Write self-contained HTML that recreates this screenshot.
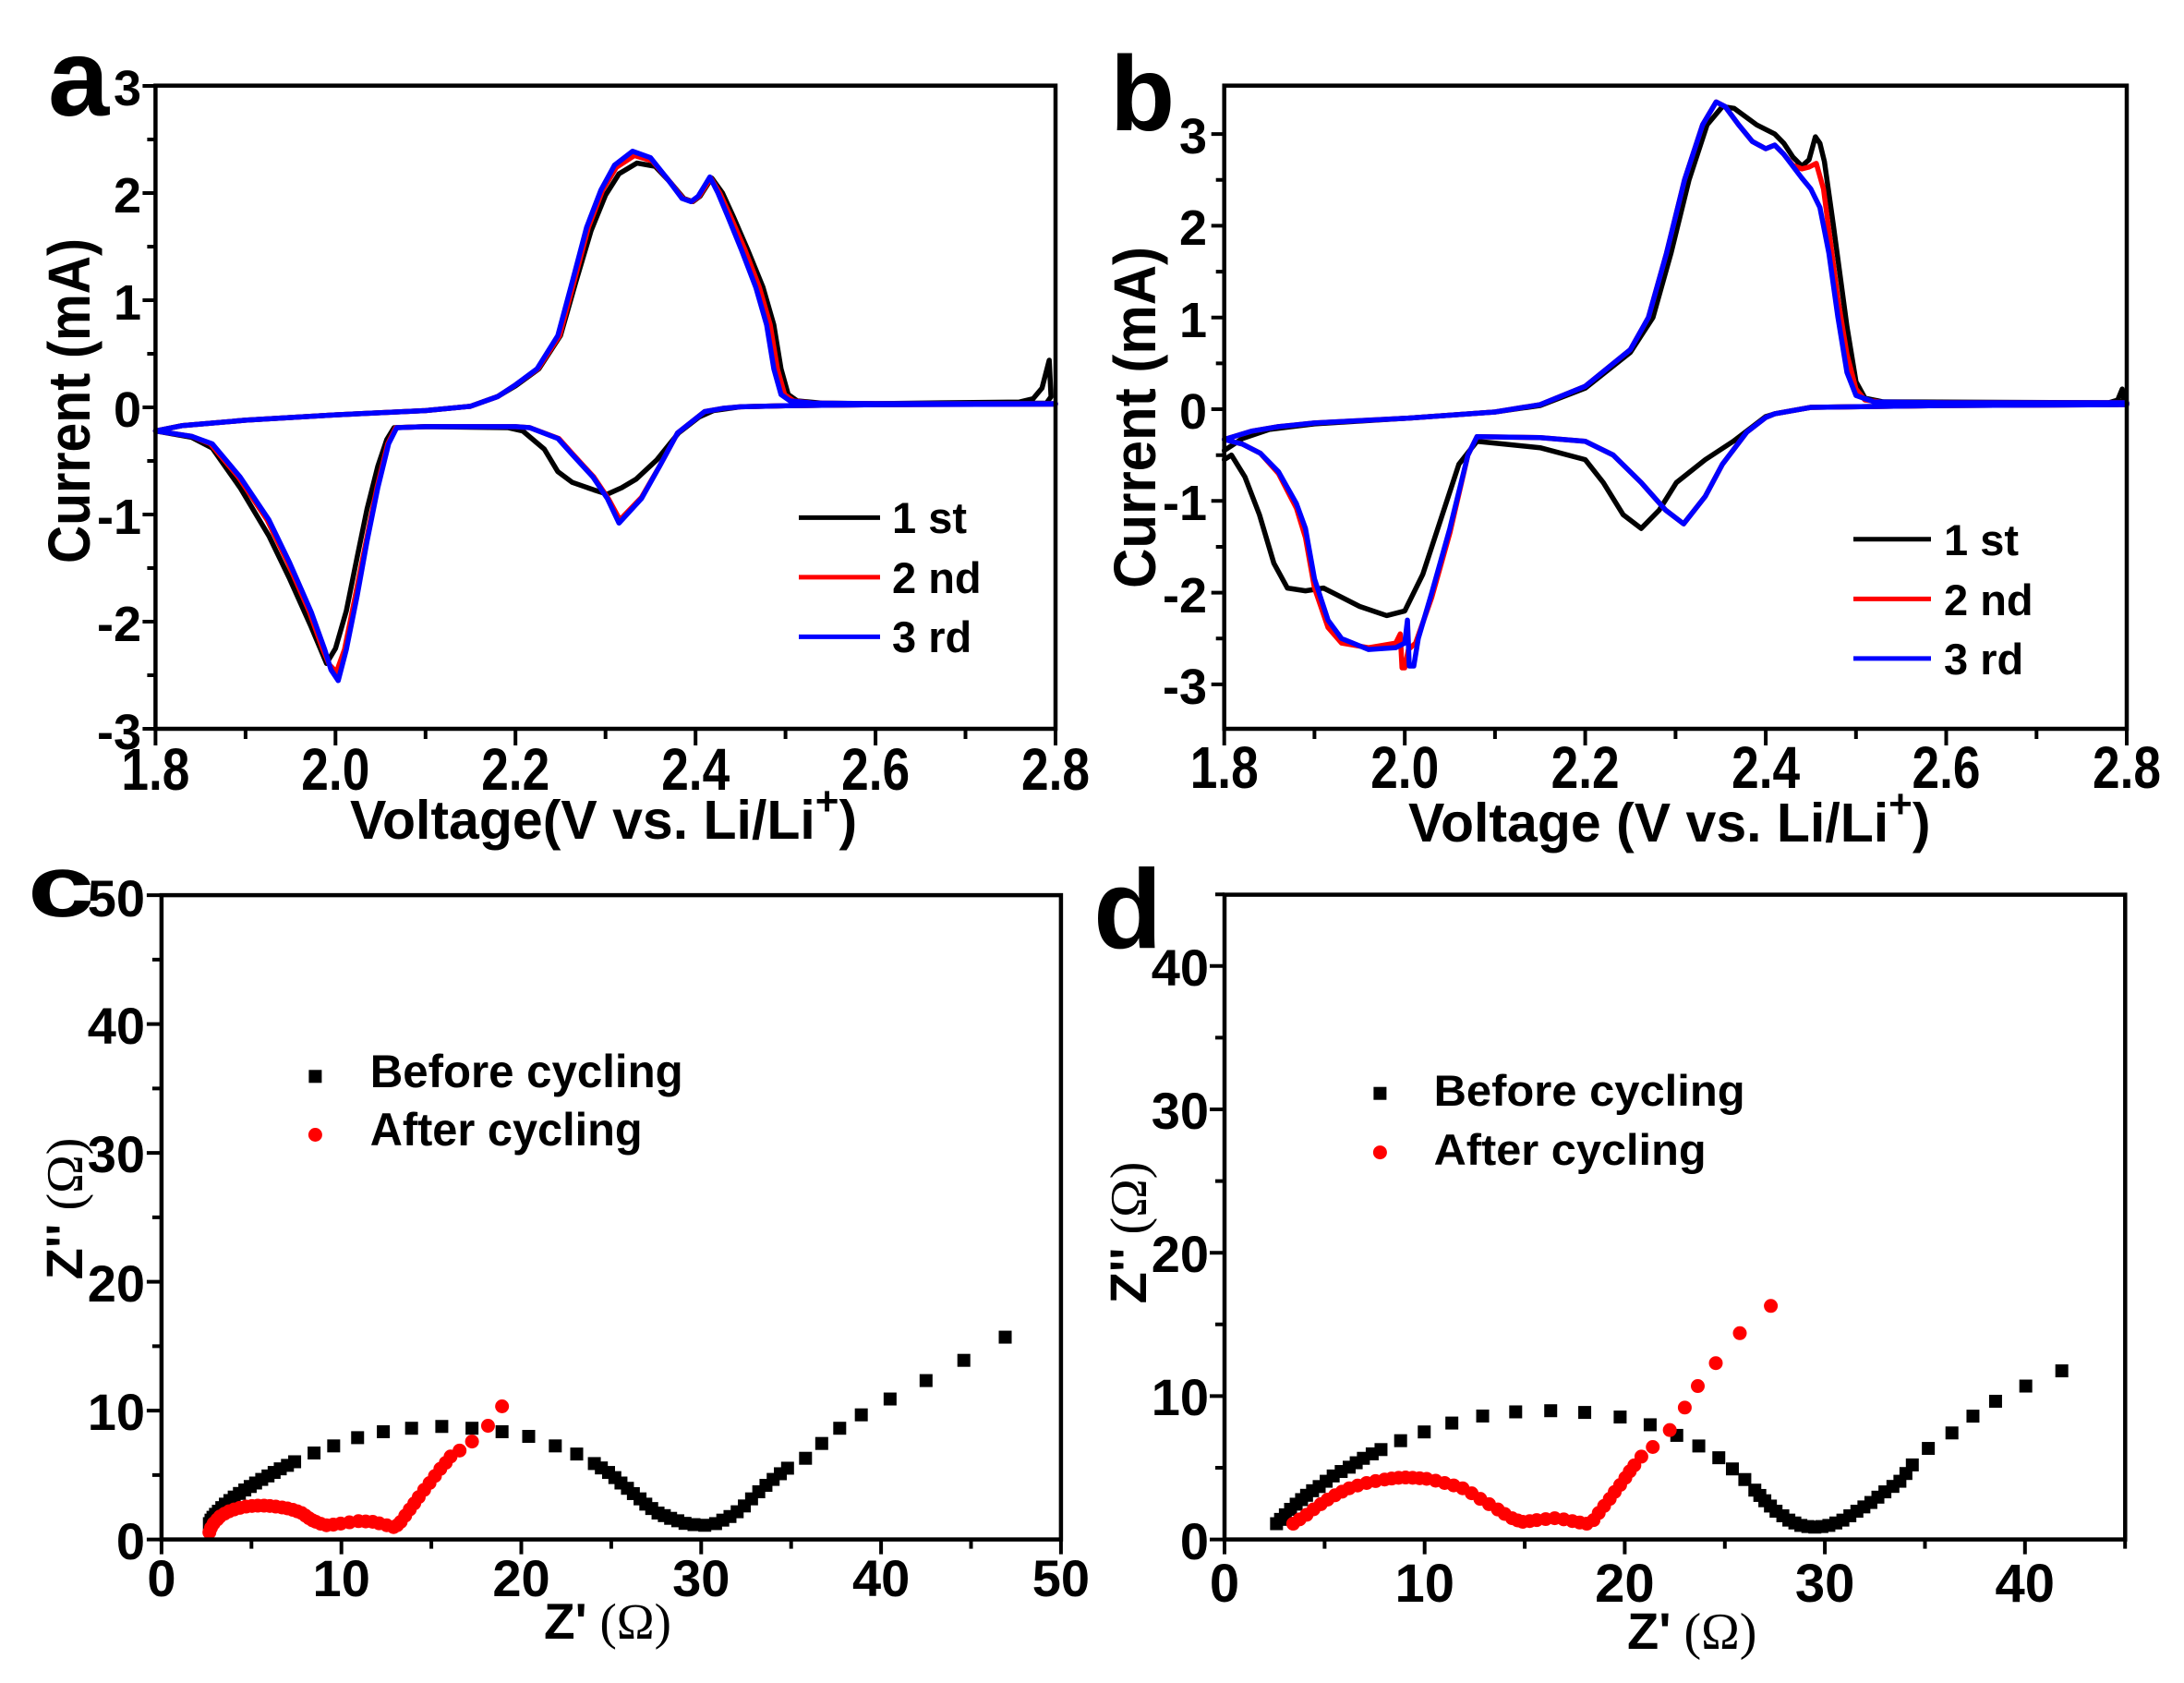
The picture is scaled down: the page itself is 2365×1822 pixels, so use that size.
<!DOCTYPE html>
<html><head><meta charset="utf-8"><style>html,body{margin:0;padding:0;background:#fff}svg{display:block}</style></head>
<body>
<svg width="2365" height="1822" viewBox="0 0 2365 1822" xmlns="http://www.w3.org/2000/svg" xmlns:xlink="http://www.w3.org/1999/xlink" font-family="'Liberation Sans', Arial, sans-serif" font-weight="bold">
<defs>
<rect id="sqc" x="-0.359" y="-0.502" width="0.719" height="1.004"/>
<ellipse id="cic" cx="0" cy="0" rx="0.385" ry="0.538"/>
<rect id="sqd" x="-0.323" y="-0.451" width="0.646" height="0.902"/>
<ellipse id="cid" cx="0" cy="0" rx="0.346" ry="0.483"/>
</defs>
<rect width="2365" height="1822" fill="#fff"/>

<!-- ================= PANEL A ================= -->
<g fill="none" stroke-width="5.5" stroke-linejoin="round" stroke-linecap="round" transform="translate(168.4,441) scale(974.6,-116)">
<polyline vector-effect="non-scaling-stroke" stroke="#000" points="0,-0.22 0.03,-0.17 0.1,-0.12 0.2,-0.07 0.3,-0.03 0.35,0.01 0.38,0.10 0.40,0.20 0.426,0.36 0.45,0.67 0.467,1.17 0.484,1.65 0.50,1.98 0.515,2.18 0.535,2.28 0.555,2.25 0.572,2.1 0.587,1.95 0.597,1.92 0.605,1.97 0.618,2.14 0.63,2.0 0.642,1.78 0.658,1.47 0.675,1.12 0.687,0.77 0.695,0.36 0.703,0.12 0.713,0.06 0.74,0.04 0.8,0.035 0.96,0.05 0.975,0.08 0.985,0.18 0.993,0.44 0.995,0.1 0.99,0.04 0.8,0.025 0.7,0.015 0.65,0.005 0.62,-0.03 0.604,-0.09 0.581,-0.24 0.557,-0.49 0.534,-0.67 0.518,-0.75 0.502,-0.81 0.487,-0.77 0.463,-0.70 0.447,-0.6 0.432,-0.39 0.408,-0.22 0.392,-0.19 0.30,-0.18 0.265,-0.19 0.257,-0.3 0.247,-0.55 0.235,-0.95 0.224,-1.4 0.212,-1.9 0.2,-2.25 0.195,-2.32 0.19,-2.39 0.173,-2.05 0.149,-1.6 0.126,-1.2 0.094,-0.75 0.063,-0.38 0.04,-0.28 0,-0.22"/>
<polyline vector-effect="non-scaling-stroke" stroke="#ff0000" points="0,-0.22 0.03,-0.17 0.1,-0.12 0.2,-0.07 0.3,-0.03 0.35,0.01 0.38,0.10 0.40,0.21 0.425,0.36 0.449,0.67 0.465,1.17 0.481,1.68 0.497,2.03 0.512,2.24 0.532,2.35 0.552,2.3 0.57,2.12 0.586,1.95 0.596,1.92 0.604,1.97 0.617,2.14 0.627,2.0 0.639,1.78 0.655,1.47 0.671,1.12 0.683,0.77 0.691,0.36 0.699,0.12 0.709,0.06 0.73,0.04 0.8,0.035 1.0,0.035 1.0,0.03 0.8,0.025 0.7,0.015 0.65,0.005 0.63,-0.01 0.61,-0.04 0.58,-0.24 0.56,-0.55 0.54,-0.84 0.516,-1.05 0.503,-0.85 0.487,-0.65 0.464,-0.44 0.448,-0.29 0.416,-0.19 0.40,-0.18 0.30,-0.18 0.267,-0.19 0.258,-0.34 0.246,-0.75 0.234,-1.25 0.222,-1.76 0.21,-2.26 0.201,-2.47 0.193,-2.4 0.186,-2.26 0.171,-1.91 0.147,-1.45 0.124,-1.05 0.092,-0.65 0.061,-0.34 0.04,-0.27 0,-0.22"/>
<polyline vector-effect="non-scaling-stroke" stroke="#0000ff" points="0,-0.22 0.03,-0.17 0.1,-0.12 0.2,-0.07 0.3,-0.03 0.35,0.01 0.38,0.10 0.40,0.21 0.424,0.36 0.447,0.67 0.463,1.17 0.479,1.68 0.495,2.03 0.51,2.26 0.53,2.39 0.55,2.33 0.569,2.13 0.585,1.95 0.595,1.92 0.603,1.97 0.616,2.15 0.625,2.0 0.636,1.78 0.651,1.47 0.667,1.12 0.679,0.77 0.687,0.36 0.695,0.12 0.705,0.06 0.73,0.04 0.8,0.035 1.0,0.035 1.0,0.03 0.8,0.025 0.7,0.015 0.65,0.005 0.63,-0.01 0.61,-0.04 0.58,-0.24 0.56,-0.55 0.54,-0.85 0.515,-1.08 0.502,-0.85 0.486,-0.65 0.463,-0.44 0.447,-0.29 0.416,-0.19 0.40,-0.18 0.30,-0.18 0.268,-0.19 0.259,-0.34 0.247,-0.75 0.235,-1.25 0.224,-1.76 0.212,-2.26 0.203,-2.55 0.195,-2.45 0.188,-2.26 0.173,-1.91 0.149,-1.45 0.126,-1.05 0.094,-0.65 0.063,-0.34 0.04,-0.27 0,-0.22"/>
</g>
<rect x="168.4" y="92.7" width="974.6" height="696.3" fill="none" stroke="#000" stroke-width="4.5"/>
<path fill="none" stroke="#000" stroke-width="4" d="M168.4 789v18 M265.9 789v11 M363.3 789v18 M460.8 789v11 M558.2 789v18 M655.7 789v11 M753.2 789v18 M850.6 789v11 M948.1 789v18 M1045.5 789v11 M1143 789v18 M168.4 93h-14 M168.4 151h-9 M168.4 209h-14 M168.4 267h-9 M168.4 325h-14 M168.4 383h-9 M168.4 441h-14 M168.4 499h-9 M168.4 557h-14 M168.4 615h-9 M168.4 673h-14 M168.4 731h-9 M168.4 789h-14"/>
<g font-size="64" text-anchor="middle">
<text x="168.4" y="855" textLength="74" lengthAdjust="spacingAndGlyphs">1.8</text>
<text x="363.3" y="855" textLength="74" lengthAdjust="spacingAndGlyphs">2.0</text>
<text x="558.2" y="855" textLength="74" lengthAdjust="spacingAndGlyphs">2.2</text>
<text x="753.2" y="855" textLength="74" lengthAdjust="spacingAndGlyphs">2.4</text>
<text x="948.1" y="855" textLength="74" lengthAdjust="spacingAndGlyphs">2.6</text>
<text x="1143" y="855" textLength="74" lengthAdjust="spacingAndGlyphs">2.8</text>
</g>
<g font-size="54" text-anchor="end">
<text x="153" y="114">3</text>
<text x="153" y="230">2</text>
<text x="153" y="346">1</text>
<text x="153" y="462">0</text>
<text x="153" y="578">-1</text>
<text x="153" y="694">-2</text>
<text x="153" y="811">-3</text>
</g>
<text x="52" y="125" font-size="119">a</text>
<text transform="translate(97,434) rotate(-90)" text-anchor="middle" font-size="64" textLength="352" lengthAdjust="spacingAndGlyphs">Current (mA)</text>
<text x="379" y="908" font-size="59">Voltage(V vs. Li/Li<tspan font-size="44" dy="-26">+</tspan><tspan dy="26">)</tspan></text>
<g stroke-width="5" fill="none">
<path d="M865 560.4H953" stroke="#000"/>
<path d="M865 624.9H953" stroke="#ff0000"/>
<path d="M865 689.4H953" stroke="#0000ff"/>
</g>
<g font-size="47">
<text x="966" y="577">1 st</text>
<text x="966" y="642">2 nd</text>
<text x="966" y="706">3 rd</text>
</g>

<!-- ================= PANEL B ================= -->
<g fill="none" stroke-width="5.5" stroke-linejoin="round" stroke-linecap="round" transform="translate(1325.7,443) scale(977.3,-99.3)">
<polyline vector-effect="non-scaling-stroke" stroke="#000" points="0,-0.45 0.02,-0.32 0.05,-0.22 0.1,-0.16 0.2,-0.10 0.3,-0.03 0.35,0.04 0.40,0.23 0.45,0.62 0.475,1.0 0.495,1.7 0.515,2.5 0.535,3.1 0.552,3.3 0.565,3.28 0.59,3.1 0.61,3.0 0.62,2.9 0.63,2.75 0.64,2.65 0.648,2.72 0.655,2.97 0.66,2.9 0.665,2.7 0.675,2.0 0.69,0.9 0.70,0.3 0.71,0.12 0.73,0.08 0.98,0.07 0.99,0.1 0.995,0.22 0.997,0.1 0.99,0.05 0.8,0.04 0.65,0.02 0.61,-0.05 0.60,-0.08 0.564,-0.35 0.533,-0.55 0.501,-0.8 0.482,-1.1 0.462,-1.3 0.442,-1.15 0.42,-0.8 0.40,-0.55 0.35,-0.42 0.28,-0.35 0.26,-0.6 0.24,-1.2 0.22,-1.8 0.20,-2.2 0.18,-2.25 0.15,-2.15 0.12,-2.0 0.11,-1.95 0.09,-1.98 0.07,-1.95 0.055,-1.68 0.039,-1.15 0.023,-0.74 0.008,-0.5 0,-0.55"/>
<polyline vector-effect="non-scaling-stroke" stroke="#ff0000" points="0,-0.33 0.03,-0.24 0.06,-0.19 0.1,-0.15 0.2,-0.10 0.3,-0.03 0.35,0.05 0.40,0.25 0.45,0.65 0.47,1.0 0.49,1.7 0.51,2.5 0.53,3.1 0.545,3.35 0.555,3.3 0.57,3.1 0.585,2.92 0.60,2.84 0.61,2.88 0.62,2.78 0.63,2.66 0.64,2.62 0.648,2.64 0.656,2.68 0.664,2.4 0.672,1.8 0.68,1.2 0.69,0.6 0.70,0.22 0.71,0.1 0.73,0.075 0.8,0.07 1.0,0.07 1.0,0.05 0.8,0.04 0.65,0.02 0.61,-0.05 0.60,-0.09 0.579,-0.25 0.552,-0.6 0.533,-0.95 0.509,-1.25 0.489,-1.1 0.462,-0.8 0.431,-0.5 0.40,-0.35 0.35,-0.31 0.28,-0.3 0.27,-0.5 0.25,-1.35 0.23,-2.05 0.212,-2.55 0.204,-2.62 0.2,-2.82 0.197,-2.82 0.195,-2.45 0.19,-2.55 0.16,-2.6 0.13,-2.55 0.115,-2.38 0.10,-1.95 0.09,-1.4 0.08,-1.08 0.06,-0.7 0.04,-0.48 0.02,-0.38 0,-0.33"/>
<polyline vector-effect="non-scaling-stroke" stroke="#0000ff" points="0,-0.33 0.03,-0.24 0.06,-0.19 0.1,-0.15 0.2,-0.10 0.3,-0.03 0.35,0.05 0.40,0.25 0.45,0.65 0.47,1.0 0.49,1.7 0.51,2.5 0.53,3.1 0.545,3.35 0.555,3.3 0.57,3.1 0.585,2.92 0.60,2.84 0.61,2.88 0.62,2.78 0.63,2.65 0.64,2.52 0.65,2.4 0.66,2.2 0.67,1.7 0.68,1.0 0.69,0.4 0.70,0.15 0.72,0.08 0.8,0.07 1.0,0.07 1.0,0.05 0.8,0.04 0.65,0.02 0.61,-0.05 0.60,-0.09 0.579,-0.25 0.552,-0.6 0.533,-0.95 0.509,-1.25 0.489,-1.1 0.462,-0.8 0.431,-0.5 0.40,-0.35 0.35,-0.31 0.28,-0.3 0.27,-0.5 0.25,-1.3 0.23,-2.0 0.215,-2.5 0.21,-2.8 0.205,-2.8 0.203,-2.3 0.2,-2.55 0.19,-2.6 0.16,-2.62 0.13,-2.5 0.115,-2.3 0.10,-1.85 0.09,-1.3 0.08,-1.03 0.06,-0.68 0.04,-0.48 0.02,-0.38 0,-0.33"/>
</g>
<rect x="1325.7" y="92.7" width="977.3" height="696.3" fill="none" stroke="#000" stroke-width="4.5"/>
<path fill="none" stroke="#000" stroke-width="4" d="M1325.7 789v18 M1423.4 789v11 M1521.2 789v18 M1618.9 789v11 M1716.6 789v18 M1814.4 789v11 M1912.1 789v18 M2009.8 789v11 M2107.5 789v18 M2205.3 789v11 M2303 789v18 M1325.7 145.1h-14 M1325.7 194.8h-9 M1325.7 244.4h-14 M1325.7 294.1h-9 M1325.7 343.7h-14 M1325.7 393.4h-9 M1325.7 443h-14 M1325.7 492.7h-9 M1325.7 542.3h-14 M1325.7 592h-9 M1325.7 641.6h-14 M1325.7 691.3h-9 M1325.7 740.9h-14"/>
<g font-size="64" text-anchor="middle">
<text x="1325.7" y="853" textLength="74" lengthAdjust="spacingAndGlyphs">1.8</text>
<text x="1521.2" y="853" textLength="74" lengthAdjust="spacingAndGlyphs">2.0</text>
<text x="1716.6" y="853" textLength="74" lengthAdjust="spacingAndGlyphs">2.2</text>
<text x="1912.1" y="853" textLength="74" lengthAdjust="spacingAndGlyphs">2.4</text>
<text x="2107.5" y="853" textLength="74" lengthAdjust="spacingAndGlyphs">2.6</text>
<text x="2303" y="853" textLength="74" lengthAdjust="spacingAndGlyphs">2.8</text>
</g>
<g font-size="54" text-anchor="end">
<text x="1307" y="166">3</text>
<text x="1307" y="265">2</text>
<text x="1307" y="365">1</text>
<text x="1307" y="464">0</text>
<text x="1307" y="563">-1</text>
<text x="1307" y="663">-2</text>
<text x="1307" y="762">-3</text>
</g>
<text x="1202" y="141" font-size="115">b</text>
<text transform="translate(1251,452) rotate(-90)" text-anchor="middle" font-size="64" textLength="370" lengthAdjust="spacingAndGlyphs">Current (mA)</text>
<text x="1525" y="911" font-size="59">Voltage (V vs. Li/Li<tspan font-size="44" dy="-26">+</tspan><tspan dy="26">)</tspan></text>
<g stroke-width="5" fill="none">
<path d="M2007 583.8H2091" stroke="#000"/>
<path d="M2007 648.4H2091" stroke="#ff0000"/>
<path d="M2007 712.9H2091" stroke="#0000ff"/>
</g>
<g font-size="47">
<text x="2105" y="601">1 st</text>
<text x="2105" y="666">2 nd</text>
<text x="2105" y="730">3 rd</text>
</g>

<!-- ================= PANEL C ================= -->
<g transform="translate(174.9,1666.6) scale(19.48,-13.95)">
<g fill="#000">
<use xlink:href="#sqc" href="#sqc" x="2.66" y="1.23"/><use xlink:href="#sqc" href="#sqc" x="2.75" y="1.5"/><use xlink:href="#sqc" href="#sqc" x="2.86" y="1.72"/><use xlink:href="#sqc" href="#sqc" x="3.0" y="1.95"/><use xlink:href="#sqc" href="#sqc" x="3.16" y="2.19"/><use xlink:href="#sqc" href="#sqc" x="3.35" y="2.47"/><use xlink:href="#sqc" href="#sqc" x="3.55" y="2.74"/><use xlink:href="#sqc" href="#sqc" x="3.8" y="3.02"/><use xlink:href="#sqc" href="#sqc" x="4.04" y="3.29"/><use xlink:href="#sqc" href="#sqc" x="4.33" y="3.57"/><use xlink:href="#sqc" href="#sqc" x="4.63" y="3.84"/><use xlink:href="#sqc" href="#sqc" x="4.93" y="4.11"/><use xlink:href="#sqc" href="#sqc" x="5.23" y="4.38"/><use xlink:href="#sqc" href="#sqc" x="5.57" y="4.66"/><use xlink:href="#sqc" href="#sqc" x="5.92" y="4.93"/><use xlink:href="#sqc" href="#sqc" x="6.26" y="5.2"/><use xlink:href="#sqc" href="#sqc" x="6.6" y="5.48"/><use xlink:href="#sqc" href="#sqc" x="7.0" y="5.75"/><use xlink:href="#sqc" href="#sqc" x="7.4" y="6.03"/><use xlink:href="#sqc" href="#sqc" x="8.48" y="6.71"/><use xlink:href="#sqc" href="#sqc" x="9.57" y="7.26"/><use xlink:href="#sqc" href="#sqc" x="10.9" y="7.9"/><use xlink:href="#sqc" href="#sqc" x="12.33" y="8.36"/><use xlink:href="#sqc" href="#sqc" x="13.9" y="8.63"/><use xlink:href="#sqc" href="#sqc" x="15.58" y="8.77"/><use xlink:href="#sqc" href="#sqc" x="17.26" y="8.63"/><use xlink:href="#sqc" href="#sqc" x="18.93" y="8.36"/><use xlink:href="#sqc" href="#sqc" x="20.41" y="8.0"/><use xlink:href="#sqc" href="#sqc" x="21.89" y="7.26"/><use xlink:href="#sqc" href="#sqc" x="23.08" y="6.63"/><use xlink:href="#sqc" href="#sqc" x="24.06" y="5.89"/><use xlink:href="#sqc" href="#sqc" x="24.45" y="5.55"/><use xlink:href="#sqc" href="#sqc" x="24.85" y="5.2"/><use xlink:href="#sqc" href="#sqc" x="25.2" y="4.8"/><use xlink:href="#sqc" href="#sqc" x="25.54" y="4.38"/><use xlink:href="#sqc" href="#sqc" x="25.9" y="3.97"/><use xlink:href="#sqc" href="#sqc" x="26.23" y="3.56"/><use xlink:href="#sqc" href="#sqc" x="26.6" y="3.15"/><use xlink:href="#sqc" href="#sqc" x="26.92" y="2.74"/><use xlink:href="#sqc" href="#sqc" x="27.25" y="2.4"/><use xlink:href="#sqc" href="#sqc" x="27.6" y="2.05"/><use xlink:href="#sqc" href="#sqc" x="27.95" y="1.85"/><use xlink:href="#sqc" href="#sqc" x="28.3" y="1.64"/><use xlink:href="#sqc" href="#sqc" x="28.7" y="1.45"/><use xlink:href="#sqc" href="#sqc" x="29.1" y="1.25"/><use xlink:href="#sqc" href="#sqc" x="29.6" y="1.15"/><use xlink:href="#sqc" href="#sqc" x="30.2" y="1.1"/><use xlink:href="#sqc" href="#sqc" x="30.8" y="1.23"/><use xlink:href="#sqc" href="#sqc" x="31.2" y="1.5"/><use xlink:href="#sqc" href="#sqc" x="31.6" y="1.78"/><use xlink:href="#sqc" href="#sqc" x="32.0" y="2.15"/><use xlink:href="#sqc" href="#sqc" x="32.4" y="2.6"/><use xlink:href="#sqc" href="#sqc" x="32.8" y="3.15"/><use xlink:href="#sqc" href="#sqc" x="33.2" y="3.7"/><use xlink:href="#sqc" href="#sqc" x="33.6" y="4.2"/><use xlink:href="#sqc" href="#sqc" x="34.0" y="4.66"/><use xlink:href="#sqc" href="#sqc" x="34.4" y="5.1"/><use xlink:href="#sqc" href="#sqc" x="34.8" y="5.53"/><use xlink:href="#sqc" href="#sqc" x="35.8" y="6.3"/><use xlink:href="#sqc" href="#sqc" x="36.7" y="7.45"/><use xlink:href="#sqc" href="#sqc" x="37.7" y="8.63"/><use xlink:href="#sqc" href="#sqc" x="38.9" y="9.67"/><use xlink:href="#sqc" href="#sqc" x="40.5" y="10.9"/><use xlink:href="#sqc" href="#sqc" x="42.5" y="12.33"/><use xlink:href="#sqc" href="#sqc" x="44.6" y="13.9"/><use xlink:href="#sqc" href="#sqc" x="46.9" y="15.7"/>
</g>
<g fill="#ff0000">
<use xlink:href="#cic" href="#cic" x="2.66" y="0.55"/><use xlink:href="#cic" href="#cic" x="2.75" y="0.9"/><use xlink:href="#cic" href="#cic" x="2.9" y="1.25"/><use xlink:href="#cic" href="#cic" x="3.1" y="1.55"/><use xlink:href="#cic" href="#cic" x="3.25" y="1.78"/><use xlink:href="#cic" href="#cic" x="3.5" y="2.0"/><use xlink:href="#cic" href="#cic" x="3.75" y="2.18"/><use xlink:href="#cic" href="#cic" x="4.04" y="2.33"/><use xlink:href="#cic" href="#cic" x="4.35" y="2.45"/><use xlink:href="#cic" href="#cic" x="4.7" y="2.55"/><use xlink:href="#cic" href="#cic" x="5.03" y="2.6"/><use xlink:href="#cic" href="#cic" x="5.35" y="2.62"/><use xlink:href="#cic" href="#cic" x="5.7" y="2.62"/><use xlink:href="#cic" href="#cic" x="6.02" y="2.6"/><use xlink:href="#cic" href="#cic" x="6.35" y="2.55"/><use xlink:href="#cic" href="#cic" x="6.7" y="2.48"/><use xlink:href="#cic" href="#cic" x="7.0" y="2.41"/><use xlink:href="#cic" href="#cic" x="7.3" y="2.3"/><use xlink:href="#cic" href="#cic" x="7.55" y="2.18"/><use xlink:href="#cic" href="#cic" x="7.79" y="2.05"/><use xlink:href="#cic" href="#cic" x="8.0" y="1.85"/><use xlink:href="#cic" href="#cic" x="8.2" y="1.65"/><use xlink:href="#cic" href="#cic" x="8.4" y="1.48"/><use xlink:href="#cic" href="#cic" x="8.58" y="1.37"/><use xlink:href="#cic" href="#cic" x="8.85" y="1.22"/><use xlink:href="#cic" href="#cic" x="9.17" y="1.1"/><use xlink:href="#cic" href="#cic" x="9.55" y="1.15"/><use xlink:href="#cic" href="#cic" x="9.96" y="1.23"/><use xlink:href="#cic" href="#cic" x="10.45" y="1.33"/><use xlink:href="#cic" href="#cic" x="10.95" y="1.42"/><use xlink:href="#cic" href="#cic" x="11.35" y="1.4"/><use xlink:href="#cic" href="#cic" x="11.74" y="1.37"/><use xlink:href="#cic" href="#cic" x="12.1" y="1.25"/><use xlink:href="#cic" href="#cic" x="12.52" y="1.1"/><use xlink:href="#cic" href="#cic" x="12.9" y="0.96"/><use xlink:href="#cic" href="#cic" x="13.1" y="1.1"/><use xlink:href="#cic" href="#cic" x="13.3" y="1.37"/><use xlink:href="#cic" href="#cic" x="13.55" y="1.85"/><use xlink:href="#cic" href="#cic" x="13.8" y="2.33"/><use xlink:href="#cic" href="#cic" x="14.05" y="2.8"/><use xlink:href="#cic" href="#cic" x="14.3" y="3.29"/><use xlink:href="#cic" href="#cic" x="14.6" y="3.85"/><use xlink:href="#cic" href="#cic" x="14.9" y="4.38"/><use xlink:href="#cic" href="#cic" x="15.2" y="4.93"/><use xlink:href="#cic" href="#cic" x="15.5" y="5.48"/><use xlink:href="#cic" href="#cic" x="15.8" y="5.95"/><use xlink:href="#cic" href="#cic" x="16.07" y="6.44"/><use xlink:href="#cic" href="#cic" x="16.57" y="6.9"/><use xlink:href="#cic" href="#cic" x="17.26" y="7.6"/><use xlink:href="#cic" href="#cic" x="18.15" y="8.82"/><use xlink:href="#cic" href="#cic" x="18.93" y="10.33"/>
</g>
</g>
<rect x="174.9" y="969.1" width="974" height="697.5" fill="none" stroke="#000" stroke-width="4.5"/>
<path fill="none" stroke="#000" stroke-width="4" d="M174.9 1666.6v16 M272.3 1666.6v10 M369.7 1666.6v16 M467.1 1666.6v10 M564.5 1666.6v16 M661.9 1666.6v10 M759.3 1666.6v16 M856.7 1666.6v10 M954.1 1666.6v16 M1051.5 1666.6v10 M1148.9 1666.6v16 M174.9 1666.6h-16 M174.9 1596.9h-10 M174.9 1527.1h-16 M174.9 1457.4h-10 M174.9 1387.6h-16 M174.9 1317.9h-10 M174.9 1248.1h-16 M174.9 1178.4h-10 M174.9 1108.6h-16 M174.9 1038.9h-10 M174.9 969.1h-16"/>
<g font-size="56" text-anchor="middle">
<text x="174.9" y="1728">0</text>
<text x="369.7" y="1728">10</text>
<text x="564.5" y="1728">20</text>
<text x="759.3" y="1728">30</text>
<text x="954.1" y="1728">40</text>
<text x="1148.9" y="1728">50</text>
</g>
<g font-size="56" text-anchor="end">
<text x="157" y="1688">0</text>
<text x="157" y="1548">10</text>
<text x="157" y="1409">20</text>
<text x="157" y="1269">30</text>
<text x="157" y="1130">40</text>
<text x="157" y="992">50</text>
</g>
<text transform="translate(30,992) scale(1.1,0.8)" font-size="118">c</text>
<text transform="translate(89,1308.5) rotate(-90)" text-anchor="middle" font-size="56">Z''<tspan font-family="'Liberation Serif', 'Times New Roman', serif" font-weight="normal"> (Ω)</tspan></text>
<text x="589" y="1774" font-size="55">Z'<tspan font-family="'Liberation Serif', 'Times New Roman', serif" font-weight="normal"> (Ω)</tspan></text>
<rect x="334.4" y="1158.3" width="14" height="14" fill="#000"/>
<circle cx="341.4" cy="1228.5" r="7.5" fill="#ff0000"/>
<g font-size="50">
<text x="400.7" y="1177" textLength="339" lengthAdjust="spacingAndGlyphs">Before cycling</text>
<text x="400.7" y="1240" textLength="295" lengthAdjust="spacingAndGlyphs">After cycling</text>
</g>

<!-- ================= PANEL D ================= -->
<g transform="translate(1326,1666.6) scale(21.67,-15.52)">
<g fill="#000">
<use xlink:href="#sqd" href="#sqd" x="2.6" y="1.1"/><use xlink:href="#sqd" href="#sqd" x="2.8" y="1.4"/><use xlink:href="#sqd" href="#sqd" x="3.04" y="1.72"/><use xlink:href="#sqd" href="#sqd" x="3.3" y="2.1"/><use xlink:href="#sqd" href="#sqd" x="3.58" y="2.46"/><use xlink:href="#sqd" href="#sqd" x="3.85" y="2.78"/><use xlink:href="#sqd" href="#sqd" x="4.1" y="3.08"/><use xlink:href="#sqd" href="#sqd" x="4.4" y="3.4"/><use xlink:href="#sqd" href="#sqd" x="4.73" y="3.69"/><use xlink:href="#sqd" href="#sqd" x="5.08" y="4.06"/><use xlink:href="#sqd" href="#sqd" x="5.43" y="4.43"/><use xlink:href="#sqd" href="#sqd" x="5.83" y="4.74"/><use xlink:href="#sqd" href="#sqd" x="6.23" y="5.04"/><use xlink:href="#sqd" href="#sqd" x="6.58" y="5.35"/><use xlink:href="#sqd" href="#sqd" x="6.94" y="5.66"/><use xlink:href="#sqd" href="#sqd" x="7.38" y="5.97"/><use xlink:href="#sqd" href="#sqd" x="7.82" y="6.27"/><use xlink:href="#sqd" href="#sqd" x="8.8" y="6.89"/><use xlink:href="#sqd" href="#sqd" x="9.98" y="7.5"/><use xlink:href="#sqd" href="#sqd" x="11.36" y="8.12"/><use xlink:href="#sqd" href="#sqd" x="12.9" y="8.61"/><use xlink:href="#sqd" href="#sqd" x="14.55" y="8.9"/><use xlink:href="#sqd" href="#sqd" x="16.3" y="8.98"/><use xlink:href="#sqd" href="#sqd" x="18.0" y="8.86"/><use xlink:href="#sqd" href="#sqd" x="19.77" y="8.54"/><use xlink:href="#sqd" href="#sqd" x="21.27" y="8.0"/><use xlink:href="#sqd" href="#sqd" x="22.6" y="7.26"/><use xlink:href="#sqd" href="#sqd" x="23.7" y="6.52"/><use xlink:href="#sqd" href="#sqd" x="24.7" y="5.7"/><use xlink:href="#sqd" href="#sqd" x="25.38" y="4.92"/><use xlink:href="#sqd" href="#sqd" x="26.0" y="4.18"/><use xlink:href="#sqd" href="#sqd" x="26.5" y="3.44"/><use xlink:href="#sqd" href="#sqd" x="26.75" y="3.07"/><use xlink:href="#sqd" href="#sqd" x="27.0" y="2.7"/><use xlink:href="#sqd" href="#sqd" x="27.28" y="2.33"/><use xlink:href="#sqd" href="#sqd" x="27.56" y="1.97"/><use xlink:href="#sqd" href="#sqd" x="27.9" y="1.65"/><use xlink:href="#sqd" href="#sqd" x="28.2" y="1.35"/><use xlink:href="#sqd" href="#sqd" x="28.5" y="1.15"/><use xlink:href="#sqd" href="#sqd" x="28.8" y="0.98"/><use xlink:href="#sqd" href="#sqd" x="29.15" y="0.9"/><use xlink:href="#sqd" href="#sqd" x="29.5" y="0.86"/><use xlink:href="#sqd" href="#sqd" x="29.85" y="0.9"/><use xlink:href="#sqd" href="#sqd" x="30.2" y="0.98"/><use xlink:href="#sqd" href="#sqd" x="30.55" y="1.15"/><use xlink:href="#sqd" href="#sqd" x="30.9" y="1.35"/><use xlink:href="#sqd" href="#sqd" x="31.25" y="1.65"/><use xlink:href="#sqd" href="#sqd" x="31.6" y="1.97"/><use xlink:href="#sqd" href="#sqd" x="31.95" y="2.27"/><use xlink:href="#sqd" href="#sqd" x="32.3" y="2.58"/><use xlink:href="#sqd" href="#sqd" x="32.65" y="2.95"/><use xlink:href="#sqd" href="#sqd" x="33.0" y="3.32"/><use xlink:href="#sqd" href="#sqd" x="33.4" y="3.7"/><use xlink:href="#sqd" href="#sqd" x="33.75" y="4.06"/><use xlink:href="#sqd" href="#sqd" x="34.05" y="4.6"/><use xlink:href="#sqd" href="#sqd" x="34.37" y="5.2"/><use xlink:href="#sqd" href="#sqd" x="35.17" y="6.35"/><use xlink:href="#sqd" href="#sqd" x="36.35" y="7.43"/><use xlink:href="#sqd" href="#sqd" x="37.4" y="8.6"/><use xlink:href="#sqd" href="#sqd" x="38.53" y="9.64"/><use xlink:href="#sqd" href="#sqd" x="40.04" y="10.7"/><use xlink:href="#sqd" href="#sqd" x="41.84" y="11.76"/>
</g>
<g fill="#ff0000">
<use xlink:href="#cid" href="#cid" x="3.43" y="1.1"/><use xlink:href="#cid" href="#cid" x="3.75" y="1.4"/><use xlink:href="#cid" href="#cid" x="4.1" y="1.72"/><use xlink:href="#cid" href="#cid" x="4.45" y="2.1"/><use xlink:href="#cid" href="#cid" x="4.81" y="2.46"/><use xlink:href="#cid" href="#cid" x="5.15" y="2.78"/><use xlink:href="#cid" href="#cid" x="5.52" y="3.08"/><use xlink:href="#cid" href="#cid" x="5.87" y="3.33"/><use xlink:href="#cid" href="#cid" x="6.23" y="3.57"/><use xlink:href="#cid" href="#cid" x="6.65" y="3.76"/><use xlink:href="#cid" href="#cid" x="7.1" y="3.94"/><use xlink:href="#cid" href="#cid" x="7.55" y="4.07"/><use xlink:href="#cid" href="#cid" x="8.0" y="4.18"/><use xlink:href="#cid" href="#cid" x="8.35" y="4.25"/><use xlink:href="#cid" href="#cid" x="8.7" y="4.3"/><use xlink:href="#cid" href="#cid" x="9.05" y="4.32"/><use xlink:href="#cid" href="#cid" x="9.4" y="4.3"/><use xlink:href="#cid" href="#cid" x="9.75" y="4.27"/><use xlink:href="#cid" href="#cid" x="10.1" y="4.23"/><use xlink:href="#cid" href="#cid" x="10.55" y="4.1"/><use xlink:href="#cid" href="#cid" x="11.0" y="3.94"/><use xlink:href="#cid" href="#cid" x="11.45" y="3.77"/><use xlink:href="#cid" href="#cid" x="11.9" y="3.57"/><use xlink:href="#cid" href="#cid" x="12.35" y="3.22"/><use xlink:href="#cid" href="#cid" x="12.78" y="2.83"/><use xlink:href="#cid" href="#cid" x="13.22" y="2.46"/><use xlink:href="#cid" href="#cid" x="13.66" y="2.09"/><use xlink:href="#cid" href="#cid" x="14.0" y="1.78"/><use xlink:href="#cid" href="#cid" x="14.37" y="1.48"/><use xlink:href="#cid" href="#cid" x="14.65" y="1.33"/><use xlink:href="#cid" href="#cid" x="14.9" y="1.23"/><use xlink:href="#cid" href="#cid" x="15.25" y="1.28"/><use xlink:href="#cid" href="#cid" x="15.6" y="1.35"/><use xlink:href="#cid" href="#cid" x="16.05" y="1.42"/><use xlink:href="#cid" href="#cid" x="16.5" y="1.48"/><use xlink:href="#cid" href="#cid" x="16.95" y="1.4"/><use xlink:href="#cid" href="#cid" x="17.38" y="1.28"/><use xlink:href="#cid" href="#cid" x="17.75" y="1.18"/><use xlink:href="#cid" href="#cid" x="18.1" y="1.1"/><use xlink:href="#cid" href="#cid" x="18.44" y="1.35"/><use xlink:href="#cid" href="#cid" x="18.7" y="1.85"/><use xlink:href="#cid" href="#cid" x="18.97" y="2.34"/><use xlink:href="#cid" href="#cid" x="19.25" y="2.83"/><use xlink:href="#cid" href="#cid" x="19.5" y="3.32"/><use xlink:href="#cid" href="#cid" x="19.77" y="3.8"/><use xlink:href="#cid" href="#cid" x="20.03" y="4.3"/><use xlink:href="#cid" href="#cid" x="20.25" y="4.75"/><use xlink:href="#cid" href="#cid" x="20.48" y="5.17"/><use xlink:href="#cid" href="#cid" x="20.83" y="5.78"/><use xlink:href="#cid" href="#cid" x="21.4" y="6.45"/><use xlink:href="#cid" href="#cid" x="22.25" y="7.63"/><use xlink:href="#cid" href="#cid" x="23.0" y="9.2"/><use xlink:href="#cid" href="#cid" x="23.65" y="10.7"/><use xlink:href="#cid" href="#cid" x="24.55" y="12.3"/><use xlink:href="#cid" href="#cid" x="25.75" y="14.39"/><use xlink:href="#cid" href="#cid" x="27.3" y="16.29"/>
</g>
</g>
<rect x="1326" y="968.6" width="975.3" height="698" fill="none" stroke="#000" stroke-width="4.5"/>
<path fill="none" stroke="#000" stroke-width="4" d="M1326 1666.6v16 M1434.4 1666.6v10 M1542.7 1666.6v16 M1651.1 1666.6v10 M1759.4 1666.6v16 M1867.8 1666.6v10 M1976.1 1666.6v16 M2084.5 1666.6v10 M2192.8 1666.6v16 M2301.2 1666.6v10 M1326 1666.6h-16 M1326 1589h-10 M1326 1511.4h-16 M1326 1433.8h-10 M1326 1356.2h-16 M1326 1278.6h-10 M1326 1201h-16 M1326 1123.4h-10 M1326 1045.8h-16 M1326 968.2h-10"/>
<g font-size="58" text-anchor="middle">
<text x="1326" y="1734">0</text>
<text x="1542.7" y="1734">10</text>
<text x="1759.4" y="1734">20</text>
<text x="1976.1" y="1734">30</text>
<text x="2192.8" y="1734">40</text>
</g>
<g font-size="56" text-anchor="end">
<text x="1309" y="1688">0</text>
<text x="1309" y="1532">10</text>
<text x="1309" y="1377">20</text>
<text x="1309" y="1222">30</text>
<text x="1309" y="1067">40</text>
</g>
<text x="1184" y="1026" font-size="122">d</text>
<text transform="translate(1241,1334.5) rotate(-90)" text-anchor="middle" font-size="56">Z''<tspan font-family="'Liberation Serif', 'Times New Roman', serif" font-weight="normal"> (Ω)</tspan></text>
<text x="1762" y="1785" font-size="56">Z'<tspan font-family="'Liberation Serif', 'Times New Roman', serif" font-weight="normal"> (Ω)</tspan></text>
<rect x="1487.4" y="1176.7" width="14" height="14" fill="#000"/>
<circle cx="1494.4" cy="1247.6" r="7.5" fill="#ff0000"/>
<g font-size="47">
<text x="1552.6" y="1197" textLength="337" lengthAdjust="spacingAndGlyphs">Before cycling</text>
<text x="1552.6" y="1261" textLength="295" lengthAdjust="spacingAndGlyphs">After cycling</text>
</g>
</svg>
</body></html>
